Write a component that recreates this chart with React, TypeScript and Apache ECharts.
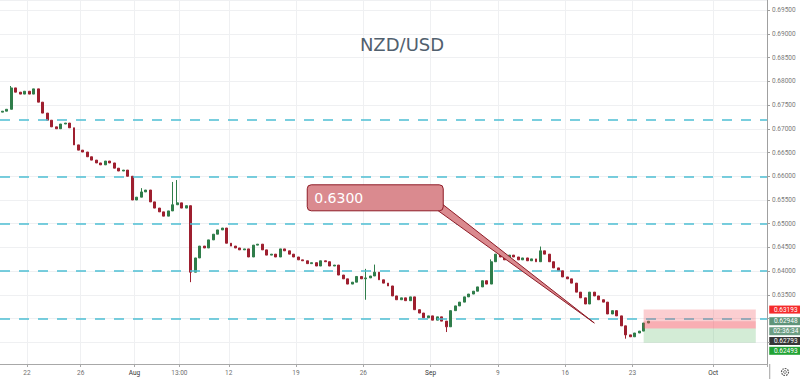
import React, { useEffect, useRef } from "react";
import * as echarts from "echarts";

const TITLE = "NZD/USD";
const CALLOUT_TEXT = "0.6300";
const COUNTDOWN = "02:36:34";
const FIRST_DAY = "2019-07-18";
const LAST_DAY = "2019-10-04";
const BAR_TIMES = ["00:00", "08:00", "16:00"];

// visible price window of the right scale
const Y_MIN = 0.62047;
const Y_MAX = 0.69711;
// scale labels below this price are hidden behind the price tags
const TAG_ZONE_TOP = 0.633;

const FIRST_OPEN = 0.6735;
const closes = [
  0.6737, 0.6741, 0.6786, 0.6777, 0.6773, 0.6779, 0.6773, 0.6784, 0.6756, 0.6733,
  0.6718, 0.6704, 0.67, 0.671, 0.6712, 0.6702, 0.6666, 0.6655, 0.6651, 0.6641,
  0.6634, 0.6628, 0.6624, 0.6632, 0.6628, 0.6617, 0.6611, 0.6613, 0.66, 0.655,
  0.6556, 0.6567, 0.6571, 0.6546, 0.6533, 0.6525, 0.6516, 0.6527, 0.654, 0.6544,
  0.6533, 0.6538, 0.6398, 0.6428, 0.6453, 0.6449, 0.6466, 0.6478, 0.6487, 0.6491,
  0.6459, 0.6453, 0.6449, 0.6445, 0.6447, 0.643, 0.6455, 0.6457, 0.6445, 0.6434,
  0.6436, 0.643, 0.6447, 0.6443, 0.6436, 0.643, 0.6424, 0.6422, 0.6416, 0.6418,
  0.6411, 0.6422, 0.642, 0.6411, 0.6413, 0.6392, 0.6384, 0.6373, 0.6377, 0.6389,
  0.6384, 0.6386, 0.639, 0.6398, 0.6382, 0.6375, 0.6369, 0.6348, 0.634, 0.6344,
  0.6338, 0.6346, 0.6319, 0.6312, 0.6302, 0.6306, 0.6297, 0.6304, 0.6295, 0.6283,
  0.6317, 0.6327, 0.6335, 0.6346, 0.6352, 0.6358, 0.6367, 0.638, 0.6373, 0.642,
  0.6436, 0.643, 0.6424, 0.6434, 0.643, 0.6424, 0.6428, 0.6422, 0.6426, 0.642,
  0.6443, 0.6436, 0.642, 0.6407, 0.6401, 0.6388, 0.6384, 0.6375, 0.6356, 0.6344,
  0.6331, 0.6356, 0.6348, 0.634, 0.6335, 0.631, 0.6317, 0.6306, 0.6285, 0.6266,
  0.6262, 0.627, 0.6274, 0.6291, 0.62948,
];
const wickHighs: Record<number, number> = { 2: 0.679, 31: 0.6575, 38: 0.6588, 39: 0.6592, 81: 0.6405, 83: 0.6414, 109: 0.6425, 120: 0.6452 };
const wickLows: Record<number, number> = { 42: 0.6377, 81: 0.634, 99: 0.6272, 139: 0.6258 };

const levels = [0.672, 0.66, 0.65, 0.64, 0.63];

const xTickLabels: Record<string, string> = {
  "2019-07-22 00:00": "22",
  "2019-07-26 00:00": "26",
  "2019-08-01 00:00": "Aug",
  "2019-08-06 08:00": "13:00",
  "2019-08-12 00:00": "12",
  "2019-08-19 00:00": "19",
  "2019-08-26 00:00": "26",
  "2019-09-02 00:00": "Sep",
  "2019-09-09 00:00": "9",
  "2019-09-16 00:00": "16",
  "2019-09-23 00:00": "23",
  "2019-10-01 00:00": "Oct",
};
const monthLabels = ["Aug", "Sep", "Oct"];

const positionTool = {
  entry: 0.62793,
  stop: 0.63193,
  target: 0.62493,
  current: 0.62948,
  from: "2019-09-23 16:00",
  to: "2019-10-04 00:00",
};
const callout = { boxAt: "2019-08-19 16:00", boxPrice: 0.6582, tipAt: "2019-09-18 00:00", tipPrice: 0.6291 };

function buildCategories(): string[] {
  const out: string[] = [];
  const d = new Date(FIRST_DAY + "T00:00:00Z");
  const end = new Date(LAST_DAY + "T00:00:00Z");
  while (d <= end) {
    const wd = d.getUTCDay();
    if (wd !== 0 && wd !== 6) {
      const s = d.toISOString().slice(0, 10);
      BAR_TIMES.forEach((t) => out.push(s + " " + t));
    }
    d.setUTCDate(d.getUTCDate() + 1);
  }
  return out;
}

export default function App() {
  const ref = useRef<HTMLDivElement>(null);
  useEffect(() => {
    const el = ref.current!;
    const chart = echarts.init(el, null, { renderer: "svg" });
    const categories = buildCategories();
    const candles = closes.map((c, i) => {
      const o = i === 0 ? FIRST_OPEN : closes[i - 1];
      const lo = wickLows[i] !== undefined ? wickLows[i] : Math.min(o, c);
      const hi = wickHighs[i] !== undefined ? wickHighs[i] : Math.max(o, c);
      return [o, c, lo, hi];
    });
    const isTick = (_i: number, v: string) => xTickLabels[v] !== undefined;
    const font = "Roboto, 'DejaVu Sans', sans-serif";

    chart.setOption({
      animation: false,
      grid: { left: 0, right: 33, top: 0, bottom: 15 },
      xAxis: {
        type: "category",
        data: categories,
        boundaryGap: true,
        axisLine: { show: true, lineStyle: { color: "#a8a8a8" } },
        axisTick: { show: true, interval: isTick, length: 3, lineStyle: { color: "#a8a8a8" } },
        splitLine: { show: true, interval: isTick, lineStyle: { color: "#eff0f2" } },
        axisLabel: {
          interval: isTick,
          fontSize: 6.5,
          fontFamily: font,
          color: "#707070",
          margin: 5,
          padding: [0, 4.5, 0, 0],
          formatter: (v: string) => {
            const t = xTickLabels[v] || "";
            return monthLabels.includes(t) ? "{m|" + t + "}" : t;
          },
          rich: { m: { color: "#333", fontSize: 6.5, fontFamily: font } },
        },
      },
      yAxis: {
        type: "value",
        position: "right",
        min: Y_MIN,
        max: Y_MAX,
        splitNumber: 15,
        minInterval: 0.005,
        maxInterval: 0.005,
        axisLine: { show: true, lineStyle: { color: "#a0a0a0" } },
        axisTick: { show: true, length: 3, lineStyle: { color: "#a0a0a0" } },
        splitLine: { show: true, lineStyle: { color: "#eff0f2" } },
        axisLabel: {
          showMinLabel: false,
          showMaxLabel: false,
          fontSize: 6.5,
          fontFamily: font,
          color: "#7a7a7a",
          margin: 5,
          formatter: (v: number) => (v < TAG_ZONE_TOP ? "" : v.toFixed(5)),
        },
      },
      series: [
        {
          type: "candlestick",
          data: candles,
          barWidth: "55%",
          itemStyle: {
            color: "#2f7d4a",
            color0: "#9e1f2f",
            borderColor: "#2f7d4a",
            borderColor0: "#9e1f2f",
            borderWidth: 1,
          },
          markLine: {
            silent: true,
            precision: 5,
            symbol: ["none", "none"],
            z: 5,
            label: { show: false },
            lineStyle: { color: "#4dbfd4", width: 1.6, type: [10, 9] },
            data: levels.map((v) => ({ yAxis: v })),
          },
          markArea: {
            silent: true,
            z: 6,
            data: [
              [
                { xAxis: positionTool.from, yAxis: positionTool.stop, itemStyle: { color: "rgba(242,80,90,0.28)" } },
                { xAxis: positionTool.to, yAxis: positionTool.entry },
              ],
              [
                { xAxis: positionTool.from, yAxis: positionTool.current, itemStyle: { color: "rgba(242,80,90,0.25)" } },
                { xAxis: positionTool.to, yAxis: positionTool.entry },
              ],
              [
                { xAxis: positionTool.from, yAxis: positionTool.entry, itemStyle: { color: "rgba(80,180,90,0.25)" } },
                { xAxis: positionTool.to, yAxis: positionTool.target },
              ],
            ],
          },
        },
      ],
    });

    const px = (cat: string, price: number) =>
      chart.convertToPixel({ gridIndex: 0 }, [categories.indexOf(cat), price]) as number[];
    const axisX = (chart.convertToPixel({ gridIndex: 0 }, [categories.length - 0.5, Y_MIN]) as number[])[0];
    const plotBottom = (chart.convertToPixel({ gridIndex: 0 }, [0, Y_MIN]) as number[])[1];

    // price-scale labels, stacked so they do not overlap
    const yOf = (p: number) => (chart.convertToPixel({ gridIndex: 0 }, [0, p]) as number[])[1];
    const priceTags = [
      { y: yOf(positionTool.stop), text: positionTool.stop.toFixed(5), bg: "#f52a2a" },
      { y: yOf(positionTool.current), text: positionTool.current.toFixed(5), bg: "#5e9479" },
      { y: yOf(positionTool.current) + 10, text: COUNTDOWN, bg: "#6c9d83" },
      { y: yOf(positionTool.entry), text: positionTool.entry.toFixed(5), bg: "#363636" },
      { y: yOf(positionTool.target), text: positionTool.target.toFixed(5), bg: "#21a334" },
    ];
    for (let i = 1; i < priceTags.length; i++) {
      if (priceTags[i].y < priceTags[i - 1].y + 9.8) priceTags[i].y = priceTags[i - 1].y + 9.8;
    }
    const tagGraphics = priceTags.map((t) => ({
      type: "group",
      z: 50,
      children: [
        { type: "rect", shape: { x: axisX, y: t.y - 4, width: 800 - axisX, height: 8 }, style: { fill: t.bg } },
        {
          type: "text",
          x: axisX + 16.5,
          y: t.y,
          style: { text: t.text, fill: "#fff", fontSize: 6.5, fontFamily: font, align: "center", verticalAlign: "middle" },
        },
      ],
    }));

    const [bx, by] = px(callout.boxAt, callout.boxPrice);
    const [tx, ty] = px(callout.tipAt, callout.tipPrice);
    const bw = 136;
    const bh = 26;

    chart.setOption({
      graphic: [
        {
          type: "text",
          x: 402,
          y: 44,
          z: 40,
          style: { text: TITLE, fill: "#51606e", fontSize: 18, fontFamily: "'DejaVu Sans', sans-serif", align: "center", verticalAlign: "middle" },
        },
        {
          type: "polygon",
          z: 40,
          shape: { points: [[bx + bw - 5, by + bh], [bx + bw, by + bh - 6], [tx, ty]] },
          style: { fill: "#da8a8f", stroke: "#8e1c27", lineWidth: 1 },
        },
        {
          type: "rect",
          z: 41,
          shape: { x: bx, y: by, width: bw, height: bh, r: 4 },
          style: { fill: "#da8a8f", stroke: "#8e1c27", lineWidth: 1 },
        },
        {
          type: "text",
          z: 42,
          x: bx + 7,
          y: by + bh / 2 + 0.5,
          style: { text: CALLOUT_TEXT, fill: "#ffffff", fontSize: 14, fontFamily: "'DejaVu Sans', sans-serif", verticalAlign: "middle" },
        },
        ...tagGraphics,
        {
          type: "line",
          z: 45,
          shape: { x1: axisX + 0.5, y1: plotBottom, x2: axisX + 0.5, y2: 379 },
          style: { stroke: "#a0a0a0", lineWidth: 1 },
        },
        {
          type: "circle",
          z: 45,
          shape: { cx: 785, cy: 372, r: 3.5 },
          style: { fill: "none", stroke: "#555", lineWidth: 1.2, lineDash: [1.6, 1] },
        },
        {
          type: "circle",
          z: 45,
          shape: { cx: 785, cy: 372, r: 1.4 },
          style: { fill: "none", stroke: "#555", lineWidth: 0.8 },
        },
      ],
    });

    return () => chart.dispose();
  }, []);
  return (
    <div
      ref={ref}
      style={{ position: "fixed", left: 0, top: 0, width: 800, height: 379, background: "#ffffff" }}
    />
  );
}
